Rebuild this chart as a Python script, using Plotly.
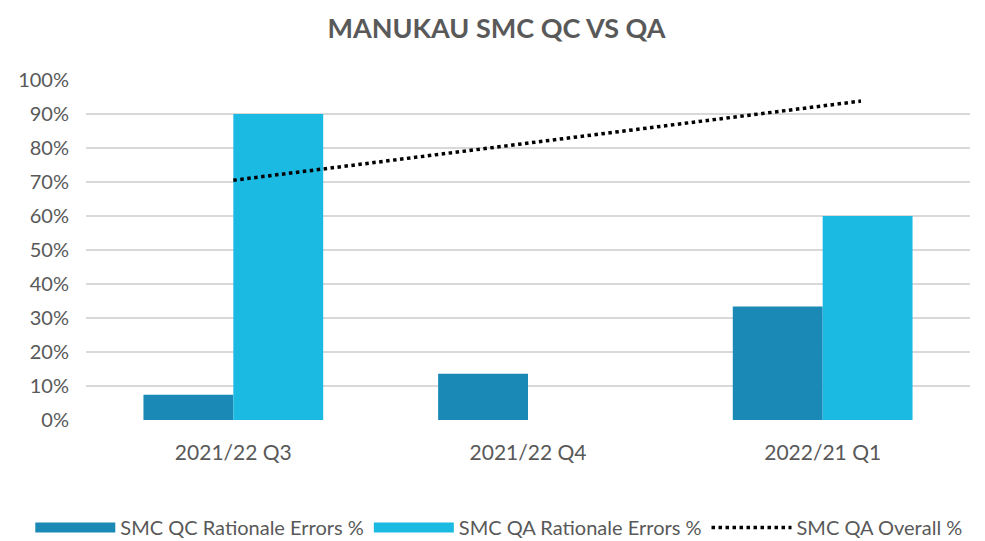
import plotly.graph_objects as go

categories = ["2021/22 Q3", "2021/22 Q4", "2022/21 Q1"]
qc_errors = [7.4, 13.6, 33.4]
qa_errors = [90.0, None, 60.0]
# linear trend of SMC QA Overall % (start / end of the drawn trendline)
trend_x = [0, 2.13]
trend_y = [70.5, 93.8]
y_ticks = [0, 10, 20, 30, 40, 50, 60, 70, 80, 90, 100]
y_ticklabels = [f"{v}%" for v in y_ticks]

xpos = list(range(len(categories)))
font_family = "Lato, Open Sans, sans-serif"
grey = "#595959"
qc_color = "#1A89B6"
qa_color = "#1BBAE3"

fig = go.Figure()
fig.add_trace(go.Bar(x=xpos, y=qc_errors, name="SMC QC Rationale Errors %",
                     marker=dict(color=qc_color, line=dict(width=0)), showlegend=False))
fig.add_trace(go.Bar(x=xpos, y=qa_errors, name="SMC QA Rationale Errors %",
                     marker=dict(color=qa_color, line=dict(width=0)), showlegend=False))
fig.add_trace(go.Scatter(x=trend_x, y=trend_y, mode="lines", name="SMC QA Overall %",
                         line=dict(color="black", width=3.5, dash="dot"), showlegend=False))

# legend entries (wide rectangular swatches like the original)
fig.add_trace(go.Scatter(x=[None], y=[None], mode="lines", name="SMC QC Rationale Errors %",
                         line=dict(color=qc_color, width=13)))
fig.add_trace(go.Scatter(x=[None], y=[None], mode="lines", name="SMC QA Rationale Errors %",
                         line=dict(color=qa_color, width=13)))
fig.add_trace(go.Scatter(x=[None], y=[None], mode="lines", name="SMC QA Overall %",
                         line=dict(color="black", width=3.5, dash="dot")))

# page body has an 8px margin: size the figure so it fits the 985x541 window
fig.update_layout(
    width=977, height=533,
    paper_bgcolor="white", plot_bgcolor="white",
    margin=dict(l=78, r=15, t=72, b=121, autoexpand=False),
    barmode="group", bargap=0.39, bargroupgap=0,
    font=dict(family=font_family, color=grey, size=16),
    title=dict(text="<b>MANUKAU SMC QC VS QA</b>", x=0.5, xanchor="center",
               y=0.962, yanchor="middle",
               font=dict(family=font_family, size=27, color=grey)),
    xaxis=dict(range=[-0.5, 2.5], tickvals=xpos, ticktext=categories,
               showgrid=False, zeroline=False, showline=False, automargin=False,
               tickfont=dict(size=21, color=grey), ticks="", ticklabelstandoff=18),
    yaxis=dict(range=[0, 100], tickvals=y_ticks, ticktext=y_ticklabels,
               showgrid=True, gridcolor="#D9D9D9", gridwidth=1.5,
               zeroline=False, showline=False, automargin=False,
               tickfont=dict(size=20, color=grey), ticks="", ticklabelstandoff=16),
    legend=dict(orientation="h", x=-0.063, xanchor="left",
                y=-0.316, yanchor="middle",
                font=dict(size=20, color=grey), traceorder="normal",
                itemwidth=80, tracegroupgap=0),
    showlegend=True,
)

fig.write_html("out.html")
